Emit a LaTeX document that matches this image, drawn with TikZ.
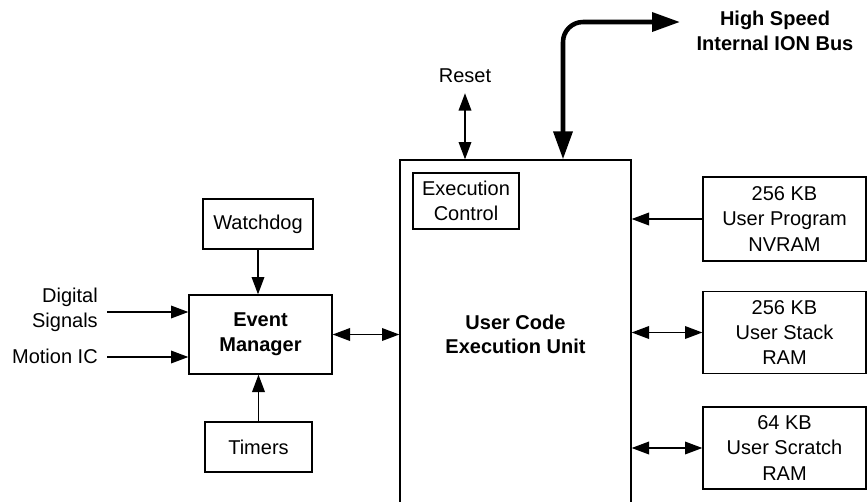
\documentclass[tikz,border=0pt]{standalone}
\usepackage{fontspec}
\setmainfont{Liberation Sans}
\usetikzlibrary{arrows.meta}

\tikzset{
	block/.style={draw, line width=1pt, align=center, inner sep=0pt, font=\fontsize{15}{19}\selectfont},
	lbl/.style={align=center, inner sep=0pt, font=\fontsize{15}{19}\selectfont},
	arr/.style={line width=1pt, -{Triangle[length=13pt, width=9.5pt]}},
	biarr/.style={line width=1pt, {Triangle[length=13pt, width=9.5pt]}-{Triangle[length=13pt, width=9.5pt]}},
	bus/.style={line width=3.4pt, rounded corners=15pt, {Triangle[length=21pt, width=14pt]}-{Triangle[length=21pt, width=14pt]}}
}

\begin{document}
\begin{tikzpicture}[x=0.75pt, y=-0.75pt]
	\useasboundingbox (0, 0) rectangle (868, 501);
	% Blocks:
	\node[block, minimum width=173.25pt, minimum height=261pt, font=\fontsize{15}{18}\selectfont\bfseries] (unit) at (515.5, 334) {User Code\\Execution Unit};
	\node[block, minimum width=79.5pt, minimum height=42pt] (exec) at (466, 201) {Execution\\Control};
	\node[block, minimum width=82.5pt, minimum height=37.5pt] (watchdog) at (258, 224) {Watchdog};
	\node[block, minimum width=107.25pt, minimum height=59.25pt, font=\fontsize{15}{18.75}\selectfont\bfseries] (event) at (260.5, 334.5) {Event\\Manager};
	\node[block, minimum width=80.25pt, minimum height=37.5pt] (timers) at (258.5, 447) {Timers};
	\node[block, minimum width=122.25pt, minimum height=63pt] (nvram) at (784.5, 219) {256 KB\\User Program\\NVRAM};
	\node[block, minimum width=122.25pt, minimum height=61.5pt] (stack) at (784.5, 332.5) {256 KB\\User Stack\\RAM};
	\node[block, minimum width=122.25pt, minimum height=61.5pt] (scratch) at (784.5, 448) {64 KB\\User Scratch\\RAM};
	% Labels:
	\node[lbl, inner ysep=7.5pt] (reset) at (465, 76) {Reset};
	\node[lbl, anchor=east, align=right, font=\fontsize{15}{18.75}\selectfont] (digital) at (98, 310) {Digital\\Signals};
	\node[lbl, anchor=east] (motion) at (98, 356) {Motion IC};
	\node[lbl, font=\fontsize{15}{19}\selectfont\bfseries] (buslbl) at (775, 31) {High Speed\\Internal ION Bus};
	\coordinate (din) at (107, 312);
	\coordinate (min) at (107, 357);
	\coordinate (busx) at (563, 22);
	\coordinate (busend) at (680, 22);
	% Connectors:
	\draw[arr] (watchdog) -- (watchdog |- event.north);
	\draw[arr] (timers) -- (timers |- event.south);
	\draw[arr] (din) -- (din -| event.west);
	\draw[arr] (min) -- (min -| event.west);
	\draw[biarr] (event.east) -- (event.east -| unit.west);
	\draw[biarr] (reset.south) -- (reset.south |- unit.north);
	\draw[bus] (busx |- unit.north) -- (busx) -- (busend);
	\draw[arr] (nvram.west) -- (nvram.west -| unit.east);
	\draw[biarr] (stack.west -| unit.east) -- (stack.west);
	\draw[biarr] (scratch.west -| unit.east) -- (scratch.west);
\end{tikzpicture}
\end{document}
